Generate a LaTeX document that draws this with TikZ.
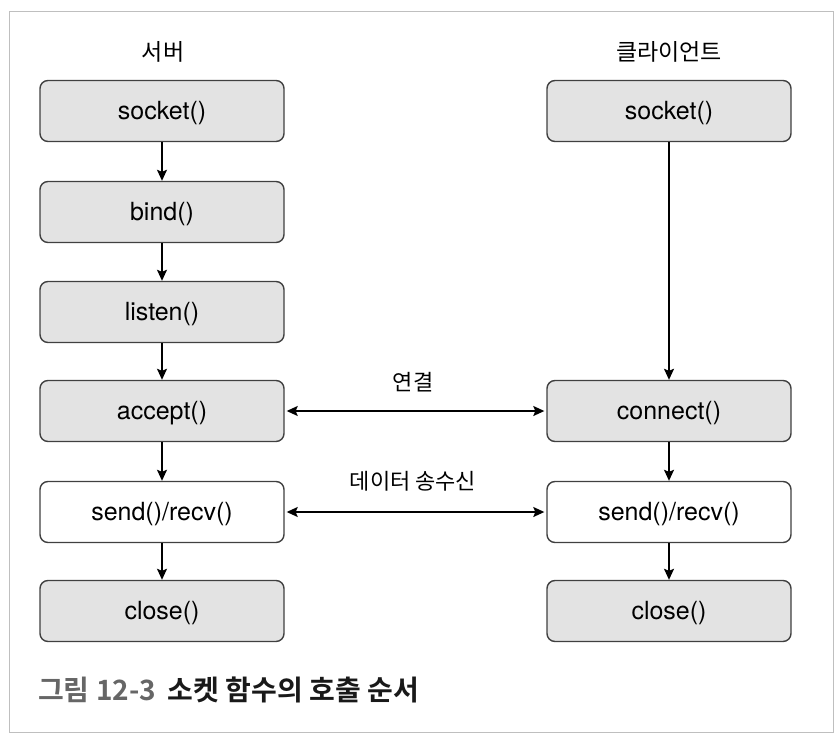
\documentclass[tikz,border=0pt]{standalone}
\usepackage{fontspec}
\setmainfont{TeX Gyre Heros}
\newfontfamily\kr{Noto Sans CJK KR}
\newfontfamily\krb{Noto Sans CJK KR Bold}
\usetikzlibrary{arrows.meta}
\begin{document}
\begin{tikzpicture}[x=1pt,y=-1pt,
  fn/.style={draw=black!75, line width=1.4pt, rounded corners=8pt, fill=black!11,
    minimum width=244pt, minimum height=61pt, inner sep=0pt, text height=22pt, text depth=5pt,
    font=\fontsize{25}{29}\selectfont},
  fnw/.style={fn, fill=white},
  flow/.style={line width=1.4pt, -{Stealth[length=11pt,width=10pt,inset=2pt]}},
  both/.style={line width=1.4pt, {Stealth[length=11pt,width=10pt,inset=2pt]}-{Stealth[length=11pt,width=10pt,inset=2pt]}, shorten <=2pt, shorten >=2pt},
  head/.style={font=\kr\fontsize{23}{26}\selectfont},
  lbl/.style={font=\kr\fontsize{22}{25}\selectfont}
]
\useasboundingbox (0,0) rectangle (840,741);
\draw[black!25, line width=1pt] (9,12) rectangle (833,732);

\node[head] (hs) at (163,52) {서버};
\node[head] (hc) at (669,52) {클라이언트};

\node[fn]  (s1) at (162,111) {socket()};
\node[fn]  (s2) at (162,212) {bind()};
\node[fn]  (s3) at (162,312) {listen()};
\node[fn]  (s4) at (162,411) {accept()};
\node[fnw] (s5) at (162,512) {send()/recv()};
\node[fn]  (s6) at (162,611) {close()};

\node[fn]  (c1) at (669,111) {socket()};
\node[fn]  (c4) at (669,411) {connect()};
\node[fnw] (c5) at (669,512) {send()/recv()};
\node[fn]  (c6) at (669,611) {close()};

\draw[flow] (s1) -- (s2);
\draw[flow] (s2) -- (s3);
\draw[flow] (s3) -- (s4);
\draw[flow] (s4) -- (s5);
\draw[flow] (s5) -- (s6);
\draw[flow] (c1) -- (c4);
\draw[flow] (c4) -- (c5);
\draw[flow] (c5) -- (c6);

\draw[both] (s4) -- (c4);
\draw[both] (s5) -- (c5);
\node[lbl] (l1) at (413,382) {연결};
\node[lbl] (l2) at (413,481) {데이터 송수신};

\node[anchor=west, inner sep=0pt, font=\krb\fontsize{28}{32}\selectfont] (cap) at (38,690)
  {\textcolor{black!60}{그림 12-3}\hspace{12pt}\textcolor{black!90}{소켓 함수의 호출 순서}};
\end{tikzpicture}
\end{document}
